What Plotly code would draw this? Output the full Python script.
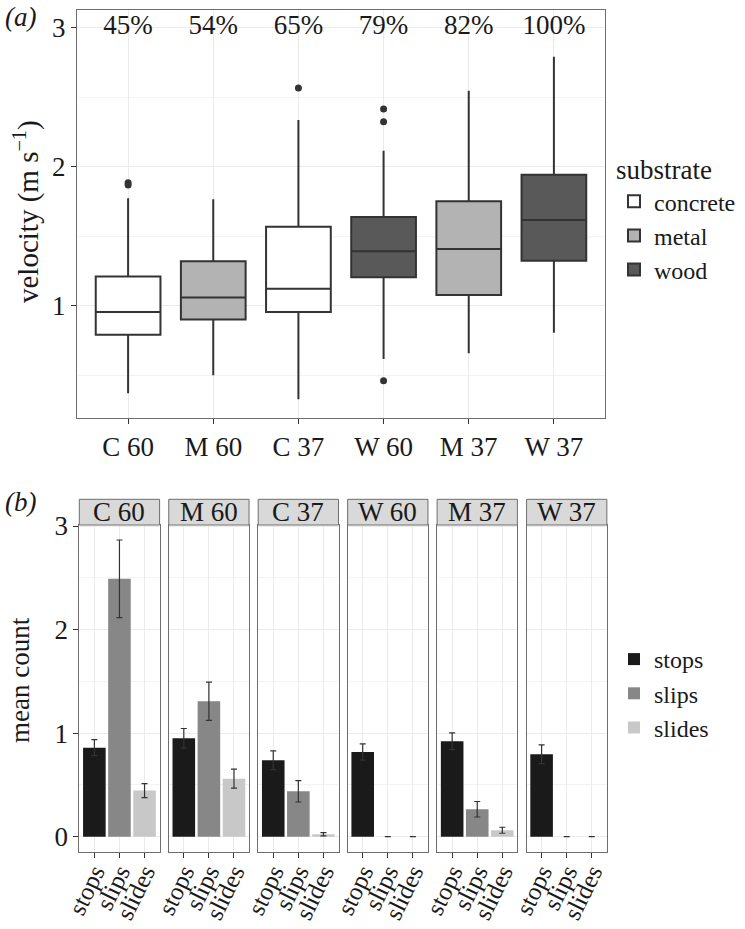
import plotly.graph_objects as go

# ---------------- data ----------------
conditions = ["C 60", "M 60", "C 37", "W 60", "M 37", "W 37"]
substrate = ["concrete", "metal", "concrete", "wood", "metal", "wood"]
q1 = [0.79, 0.90, 0.955, 1.204, 1.077, 1.324]
median = [0.955, 1.058, 1.122, 1.391, 1.408, 1.617]
q3 = [1.209, 1.319, 1.568, 1.638, 1.751, 1.942]
lower_fence = [0.37, 0.499, 0.327, 0.617, 0.657, 0.806]
upper_fence = [1.773, 1.765, 2.336, 2.115, 2.547, 2.791]
percent_labels = ["45%", "54%", "65%", "79%", "82%", "100%"]
percent_y = [3.0, 3.0, 3.0, 3.0, 3.0, 3.0]

outlier_x = ["C 60", "C 60", "C 37", "W 60", "W 60", "W 60"]
outlier_y = [1.868, 1.885, 2.566, 2.414, 2.323, 0.46]

substrates = ["concrete", "metal", "wood"]
substrate_colors = ["#ffffff", "#b3b3b3", "#595959"]

behaviours = ["stops", "slips", "slides"]
behaviour_colors = ["#1a1a1a", "#878787", "#c8c8c8"]
# mean counts per condition (rows) x behaviour (cols)
mean_counts = [
    [0.86, 2.49, 0.445],
    [0.95, 1.308, 0.56],
    [0.738, 0.438, 0.023],
    [0.818, 0.0, 0.0],
    [0.921, 0.265, 0.062],
    [0.796, 0.0, 0.0],
]
count_err = [
    [0.077, 0.375, 0.067],
    [0.095, 0.185, 0.092],
    [0.09, 0.103, 0.016],
    [0.078, 0.0, 0.0],
    [0.081, 0.075, 0.029],
    [0.09, 0.0, 0.0],
]

# ---------------- layout helpers ----------------
W, H = 745, 929
FONT = "Liberation Serif"
FS = 27
LFS = 24
TXT = "#1a1a1a"
GRID = "#ebebeb"
BORDER = "#6e6e6e"


def fx(p):
    return p / W


def fy(p):
    return 1 - p / H


fig = go.Figure()

# ---------------- panel (a): box plots ----------------
for s, col in zip(substrates, substrate_colors):
    idx = [i for i, v in enumerate(substrate) if v == s]
    fig.add_trace(go.Box(
        x=[conditions[i] for i in idx],
        q1=[q1[i] for i in idx],
        median=[median[i] for i in idx],
        q3=[q3[i] for i in idx],
        lowerfence=[lower_fence[i] for i in idx],
        upperfence=[upper_fence[i] for i in idx],
        name=s,
        fillcolor=col,
        line=dict(color="#333333", width=2),
        whiskerwidth=0,
        width=0.76,
        boxpoints=False,
        xaxis="x", yaxis="y",
        legend="legend",
    ))

fig.add_trace(go.Scatter(
    x=outlier_x, y=outlier_y, mode="markers",
    marker=dict(color="#333333", size=7),
    showlegend=False, xaxis="x", yaxis="y", hoverinfo="skip",
))

fig.add_trace(go.Scatter(
    x=conditions, y=percent_y, mode="text", text=percent_labels,
    textposition="middle center",
    textfont=dict(family=FONT, size=FS, color=TXT),
    showlegend=False, xaxis="x", yaxis="y", hoverinfo="skip",
))

# ---------------- panel (b): faceted bars ----------------
for fi, cond in enumerate(conditions):
    ax = fi + 2
    for bi, (b, col) in enumerate(zip(behaviours, behaviour_colors)):
        fig.add_trace(go.Bar(
            x=[b], y=[mean_counts[fi][bi]],
            error_y=dict(type="data", array=[count_err[fi][bi]],
                         color="#333333", thickness=1.2, width=3),
            marker=dict(color=col, line=dict(width=0)),
            width=0.9,
            name=b,
            showlegend=(fi == 0),
            legend="legend2",
            xaxis=f"x{ax}", yaxis=f"y{ax}",
        ))

layout = dict(
    width=W, height=H,
    margin=dict(l=0, r=0, t=0, b=0),
    paper_bgcolor="white", plot_bgcolor="white",
    font=dict(family=FONT, size=FS, color=TXT),
    boxmode="overlay", barmode="overlay",
    showlegend=True,
)

axis_common = dict(
    showline=True, mirror=True, linecolor=BORDER, linewidth=1,
    ticks="outside", ticklen=5, tickcolor="#333333", tickwidth=1,
    gridcolor=GRID, gridwidth=1.2, zeroline=False,
    tickfont=dict(family=FONT, size=FS, color=TXT),
    automargin=False,
)

layout["xaxis"] = dict(
    axis_common, domain=[fx(77), fx(605)], anchor="y",
    type="category", categoryorder="array", categoryarray=conditions,
    tickmode="array", tickvals=conditions, ticktext=conditions,
    range=[-0.6, 5.6], showgrid=True,
)
layout["yaxis"] = dict(
    axis_common, domain=[fy(418), fy(10)], anchor="x",
    range=[0.192, 3.127], tickvals=[1, 2, 3], showgrid=True,
    minor=dict(tickvals=[0.5, 1.5, 2.5], showgrid=True, gridcolor="#f3f3f3",
               gridwidth=1),
)

x0 = 79.3
pw = 80.3
step = 89.45
for fi in range(len(conditions)):
    ax = fi + 2
    left = x0 + fi * step
    layout[f"xaxis{ax}"] = dict(
        axis_common, domain=[fx(left), fx(left + pw)], anchor=f"y{ax}",
        type="category", categoryorder="array", categoryarray=behaviours,
        tickmode="array", tickvals=behaviours, ticktext=behaviours,
        range=[-0.6, 2.6], showgrid=True, tickangle=-64,
        ticklabelstandoff=-10,
        tickfont=dict(family=FONT, size=25, color=TXT),
    )
    layout[f"yaxis{ax}"] = dict(
        axis_common, domain=[fy(851.7), fy(525)], anchor=f"x{ax}",
        range=[-0.145, 3.01], tickvals=[0, 1, 2, 3], showgrid=True,
        showticklabels=(fi == 0), ticks="outside" if fi == 0 else "",
        minor=dict(tickvals=[0.5, 1.5, 2.5], showgrid=True, gridcolor="#f3f3f3",
                   gridwidth=1),
    )

layout["legend"] = dict(
    x=fx(614), y=fy(144), xanchor="left", yanchor="top",
    title=dict(text="substrate", font=dict(family=FONT, size=FS, color=TXT)),
    font=dict(family=FONT, size=LFS, color=TXT),
    bgcolor="rgba(0,0,0,0)", itemwidth=30, tracegroupgap=0,
)
layout["legend2"] = dict(
    x=fx(614), y=fy(637), xanchor="left", yanchor="top",
    font=dict(family=FONT, size=LFS, color=TXT),
    bgcolor="rgba(0,0,0,0)", itemwidth=30, tracegroupgap=0,
)

shapes = []
annotations = []
for fi, cond in enumerate(conditions):
    left = x0 + fi * step
    shapes.append(dict(
        type="rect", xref="paper", yref="paper",
        x0=fx(left), x1=fx(left + pw), y0=fy(525), y1=fy(499.3),
        fillcolor="#d9d9d9", line=dict(color=BORDER, width=1), layer="above",
    ))
    annotations.append(dict(
        text=cond, xref="paper", yref="paper",
        x=fx(left + pw / 2), y=fy(512), xanchor="center", yanchor="middle",
        showarrow=False, font=dict(family=FONT, size=FS, color=TXT),
    ))

annotations += [
    dict(text="<i>(a)</i>", xref="paper", yref="paper", x=fx(3), y=fy(17),
         xanchor="left", yanchor="middle", showarrow=False,
         font=dict(family=FONT, size=FS, color=TXT)),
    dict(text="<i>(b)</i>", xref="paper", yref="paper", x=fx(3), y=fy(502),
         xanchor="left", yanchor="middle", showarrow=False,
         font=dict(family=FONT, size=FS, color=TXT)),
    dict(text="velocity (m s<sup>\u22121</sup>)", xref="paper", yref="paper",
         x=fx(27), y=fy(212), xanchor="center", yanchor="middle",
         textangle=-90, showarrow=False,
         font=dict(family=FONT, size=29, color=TXT)),
    dict(text="mean count", xref="paper", yref="paper",
         x=fx(20), y=fy(680), xanchor="center", yanchor="middle",
         textangle=-90, showarrow=False,
         font=dict(family=FONT, size=FS, color=TXT)),
]

layout["shapes"] = shapes
layout["annotations"] = annotations

fig.update_layout(**layout)
fig.write_html("out.html",
               config={"displayModeBar": False},
               post_script="document.body.style.margin='0px';")
